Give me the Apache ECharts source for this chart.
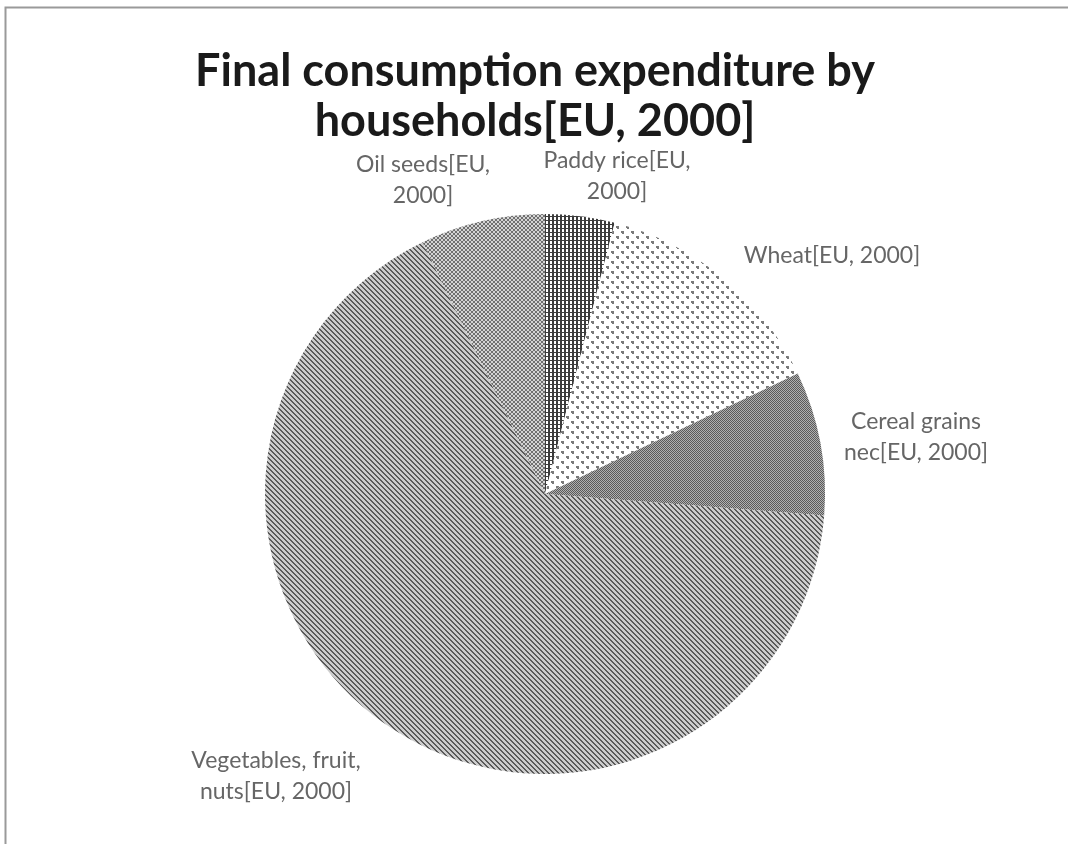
<!DOCTYPE html>
<html>
<head>
<meta charset="utf-8">
<script src="https://cdn.jsdelivr.net/npm/echarts@6/dist/echarts.min.js"></script>
<style>
html,body{margin:0;padding:0;background:#fff;}
#chart{width:1068px;height:844px;}
</style>
</head>
<body>
<div id="chart"></div>
<script>
// ---- data ----
const titleText = "Final consumption expenditure by\nhouseholds[EU, 2000]";
const categories = ["Paddy rice", "Wheat", "Cereal grains nec", "Vegetables, fruit, nuts", "Oil seeds"];
const labelTexts = ["Paddy rice[EU,\n2000]", "Wheat[EU, 2000]", "Cereal grains\nnec[EU, 2000]", "Vegetables, fruit,\nnuts[EU, 2000]", "Oil seeds[EU,\n2000]"];
const values = [4.0, 13.9, 8.3, 66.5, 7.2];

// ---- styling helpers (patterns) ----
function tile(w, h, draw) {
  const c = document.createElement('canvas');
  c.width = w; c.height = h;
  const g = c.getContext('2d');
  g.fillStyle = '#ffffff';
  g.fillRect(0, 0, w, h);
  draw(g);
  return { image: c, repeat: 'repeat' };
}
const patPaddy = tile(4, 4, g => {
  g.fillStyle = '#3c3c3c';
  g.fillRect(0, 0, 2, 4);
  g.fillRect(0, 0, 4, 1);
});
const patWheat = tile(10, 10, g => {
  g.fillStyle = '#7a7a7a';
  g.fillRect(1, 1, 3, 2); g.fillRect(2, 3, 2, 1);
  g.fillRect(6, 6, 3, 2); g.fillRect(7, 8, 2, 1);
});
const patCereal = tile(2, 2, g => {
  g.fillStyle = '#5a5a5a';
  g.fillRect(0, 0, 1, 1); g.fillRect(1, 1, 1, 1);
  g.fillStyle = '#b0b0b0';
  g.fillRect(1, 0, 1, 1); g.fillRect(0, 1, 1, 1);
});
const patVeg = tile(5, 5, g => {
  g.fillStyle = '#cccccc';
  g.fillRect(0, 0, 5, 5);
  g.fillStyle = '#5a5a5a';
  for (let i = 0; i < 5; i++) { g.fillRect(i, i, 1, 1); g.fillRect((i + 1) % 5, i, 1, 1); }
});
const patOil = tile(4, 4, g => {
  g.fillStyle = '#d4d4d4';
  g.fillRect(0, 0, 4, 4);
  g.fillStyle = '#707070';
  for (let i = 0; i < 4; i++) { g.fillRect(i, i, 1, 1); g.fillRect(3 - i, i, 1, 1); }
});
const patterns = [patPaddy, patWheat, patCereal, patVeg, patOil];

// label anchor positions (layout)
const labelPos = [[617, 176], [832, 256], [916, 437], [276, 776], [423, 180]];

const chart = echarts.init(document.getElementById('chart'), null, { renderer: 'canvas' });
chart.setOption({
  animation: false,
  backgroundColor: '#ffffff',
  title: {
    text: titleText,
    left: 530,
    textAlign: 'center',
    top: 41,
    textStyle: {
      fontFamily: 'Lato',
      fontWeight: 'bold',
      fontSize: 45,
      lineHeight: 50,
      color: '#1a1a1a'
    }
  },
  graphic: [{
    type: 'rect',
    shape: { x: 5.5, y: 7.5, width: 1200, height: 1000 },
    style: { fill: 'none', stroke: '#9a9a9a', lineWidth: 2 },
    silent: true
  }],
  series: [{
    type: 'pie',
    center: [545, 494],
    radius: [0, 280],
    startAngle: 90,
    clockwise: true,
    avoidLabelOverlap: false,
    label: {
      show: true,
      position: 'outside',
      formatter: p => labelTexts[p.dataIndex],
      fontFamily: 'Lato',
      fontSize: 23,
      lineHeight: 31,
      color: '#666666',
      align: 'center'
    },
    labelLine: { show: false },
    labelLayout: p => ({
      x: labelPos[p.dataIndex][0],
      y: labelPos[p.dataIndex][1],
      align: 'center',
      verticalAlign: 'middle'
    }),
    itemStyle: { borderWidth: 0 },
    emphasis: { disabled: true },
    data: categories.map((c, i) => ({
      name: c,
      value: values[i],
      itemStyle: { color: patterns[i] }
    }))
  }]
});
</script>
</body>
</html>
